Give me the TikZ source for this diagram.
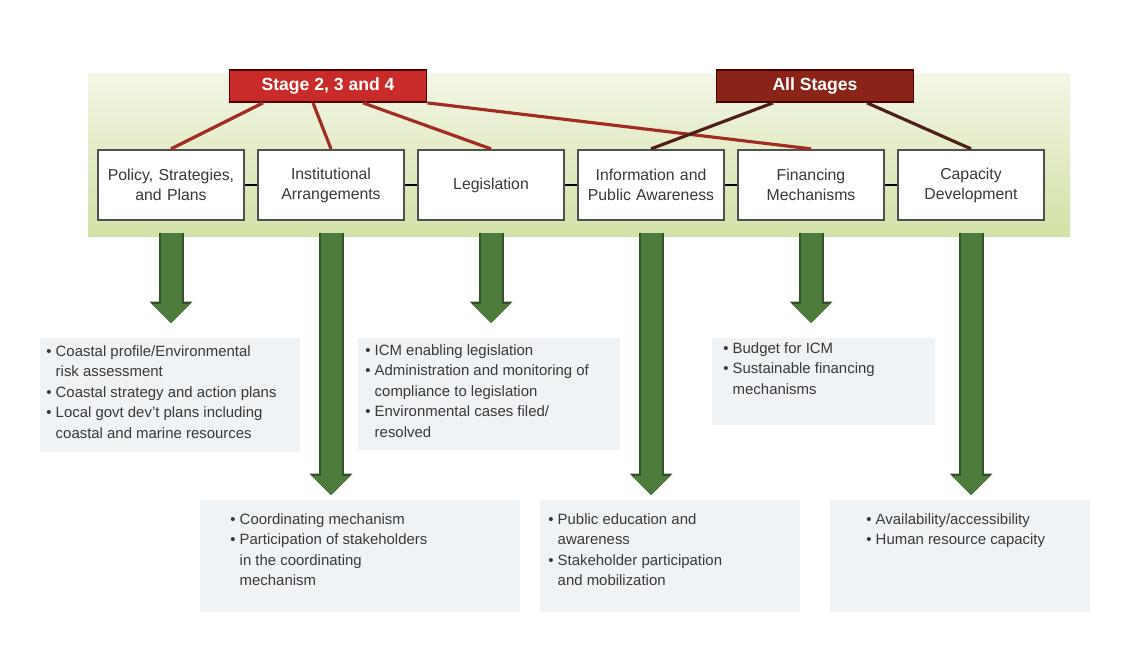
\documentclass[tikz,border=0pt]{standalone}
\usepackage{fontspec}
\setmainfont{Liberation Sans}
\usetikzlibrary{positioning,arrows.meta,calc}
\definecolor{bandtop}{HTML}{F3F6E6}
\definecolor{bandbot}{HTML}{D2E1A6}
\definecolor{stagered}{HTML}{C92B2A}
\definecolor{allred}{HTML}{8A2419}
\definecolor{linered}{HTML}{A02C22}
\definecolor{linedark}{HTML}{4E1F17}
\definecolor{arrowgreen}{HTML}{4E7C3C}
\definecolor{arrowedge}{HTML}{33502A}
\definecolor{boxedge}{HTML}{505050}
\definecolor{textgray}{HTML}{383838}
\definecolor{panel}{HTML}{F0F3F6}
\newcommand{\bul}{\textbullet\ }
\newcommand{\ind}{\hphantom{\textbullet\ }}
\tikzset{
  tool/.style={draw=boxedge, line width=1.3pt, fill=white, minimum width=2.92cm,
    minimum height=1.4cm, text width=2.6cm, align=center,
    font=\fontsize{9}{11.3}\selectfont, text=textgray},
  stage/.style={draw=black!70!red, line width=1pt, minimum width=3.94cm,
    minimum height=0.64cm, font=\fontsize{10}{12}\selectfont\bfseries, text=white},
  link/.style={line width=1.8pt, draw=linered},
  down/.style={line width=0.42cm, draw=arrowgreen, shorten <=0.24cm,
    -{Triangle[width=0.76cm,length=0.38cm,line width=0pt]},
    preaction={draw=arrowedge, line width=0.5cm, shorten <=0.24cm,
      -{Triangle[width=0.86cm,length=0.43cm,line width=0pt]}}},
  notes/.style={anchor=north west, inner sep=0pt, align=left,
    font=\fontsize{8.5}{11.7}\selectfont, text=textgray}
}
\begin{document}
\begin{tikzpicture}[x=0.02cm,y=-0.02cm]
  \useasboundingbox (0,0) rectangle (1135,660);
  \fill[top color=bandtop, bottom color=bandbot] (88,73) rectangle (1070,236);
  \fill[panel] (40,338) rectangle (300,452);
  \fill[panel] (358,338) rectangle (620,450);
  \fill[panel] (712,338) rectangle (935,425);
  \fill[panel] (200,500) rectangle (520,612);
  \fill[panel] (540,500) rectangle (800,612);
  \fill[panel] (830,500) rectangle (1090,612);

  \node[tool] (b1) at (171,185) {Policy, Strategies,\\ and Plans};
  \node[tool, right=0.235cm of b1] (b2) {Institutional\\ Arrangements};
  \node[tool, right=0.235cm of b2] (b3) {Legislation};
  \node[tool, right=0.235cm of b3] (b4) {Information and\\ Public Awareness};
  \node[tool, right=0.235cm of b4] (b5) {Financing\\ Mechanisms};
  \node[tool, right=0.235cm of b5] (b6) {Capacity\\ Development};
  \draw[line width=1pt] (b1) -- (b2);
  \draw[line width=1pt] (b2) -- (b3);
  \draw[line width=1pt] (b3) -- (b4);
  \draw[line width=1pt] (b4) -- (b5);
  \draw[line width=1pt] (b5) -- (b6);

  \node[stage, fill=stagered] (st) at (328,86) {Stage 2, 3 and 4};
  \node[stage, fill=allred] (al) at (815,86) {All Stages};
  \draw[link] ($(st.south)+(-65,0)$) -- (b1.north);
  \draw[link] ($(st.south)+(-15,0)$) -- (b2.north);
  \draw[link] ($(st.south)+(35,0)$) -- (b3.north);
  \draw[link] (st.south east) -- (b5.north);
  \draw[link, draw=linedark] ($(al.south)+(-42,0)$) -- (b4.north);
  \draw[link, draw=linedark] ($(al.south)+(52,0)$) -- (b6.north);

  \coordinate (e1) at (b1.south |- 0,323);
  \coordinate (e2) at (b2.south |- 0,495);
  \coordinate (e3) at (b3.south |- 0,323);
  \coordinate (e4) at (b4.south |- 0,495);
  \coordinate (e5) at (b5.south |- 0,323);
  \coordinate (e6) at (b6.south |- 0,495);
  \draw[down] (b1.south) -- (e1);
  \draw[down] (b2.south) -- (e2);
  \draw[down] (b3.south) -- (e3);
  \draw[down] (b4.south) -- (e4);
  \draw[down] (b5.south) -- (e5);
  \draw[down] (b6.south) -- (e6);

  \node[notes] (n1) at (46,345) {\bul Coastal profile/Environmental\\ \ind risk assessment\\
    \bul Coastal strategy and action plans\\ \bul Local govt dev't plans including\\
    \ind coastal and marine resources};
  \node[notes] (n3) at (365,344) {\bul ICM enabling legislation\\ \bul Administration and monitoring of\\
    \ind compliance to legislation\\ \bul Environmental cases filed/\\ \ind resolved};
  \node[notes] (n5) at (723,342) {\bul Budget for ICM\\ \bul Sustainable financing\\ \ind mechanisms};
  \node[notes] (n2) at (230,513) {\bul Coordinating mechanism\\ \bul Participation of stakeholders\\
    \ind in the coordinating\\ \ind mechanism};
  \node[notes] (n4) at (548,513) {\bul Public education and\\ \ind awareness\\
    \bul Stakeholder participation\\ \ind and mobilization};
  \node[notes] (n6) at (866,513) {\bul Availability/accessibility\\ \bul Human resource capacity};
\end{tikzpicture}
\end{document}
